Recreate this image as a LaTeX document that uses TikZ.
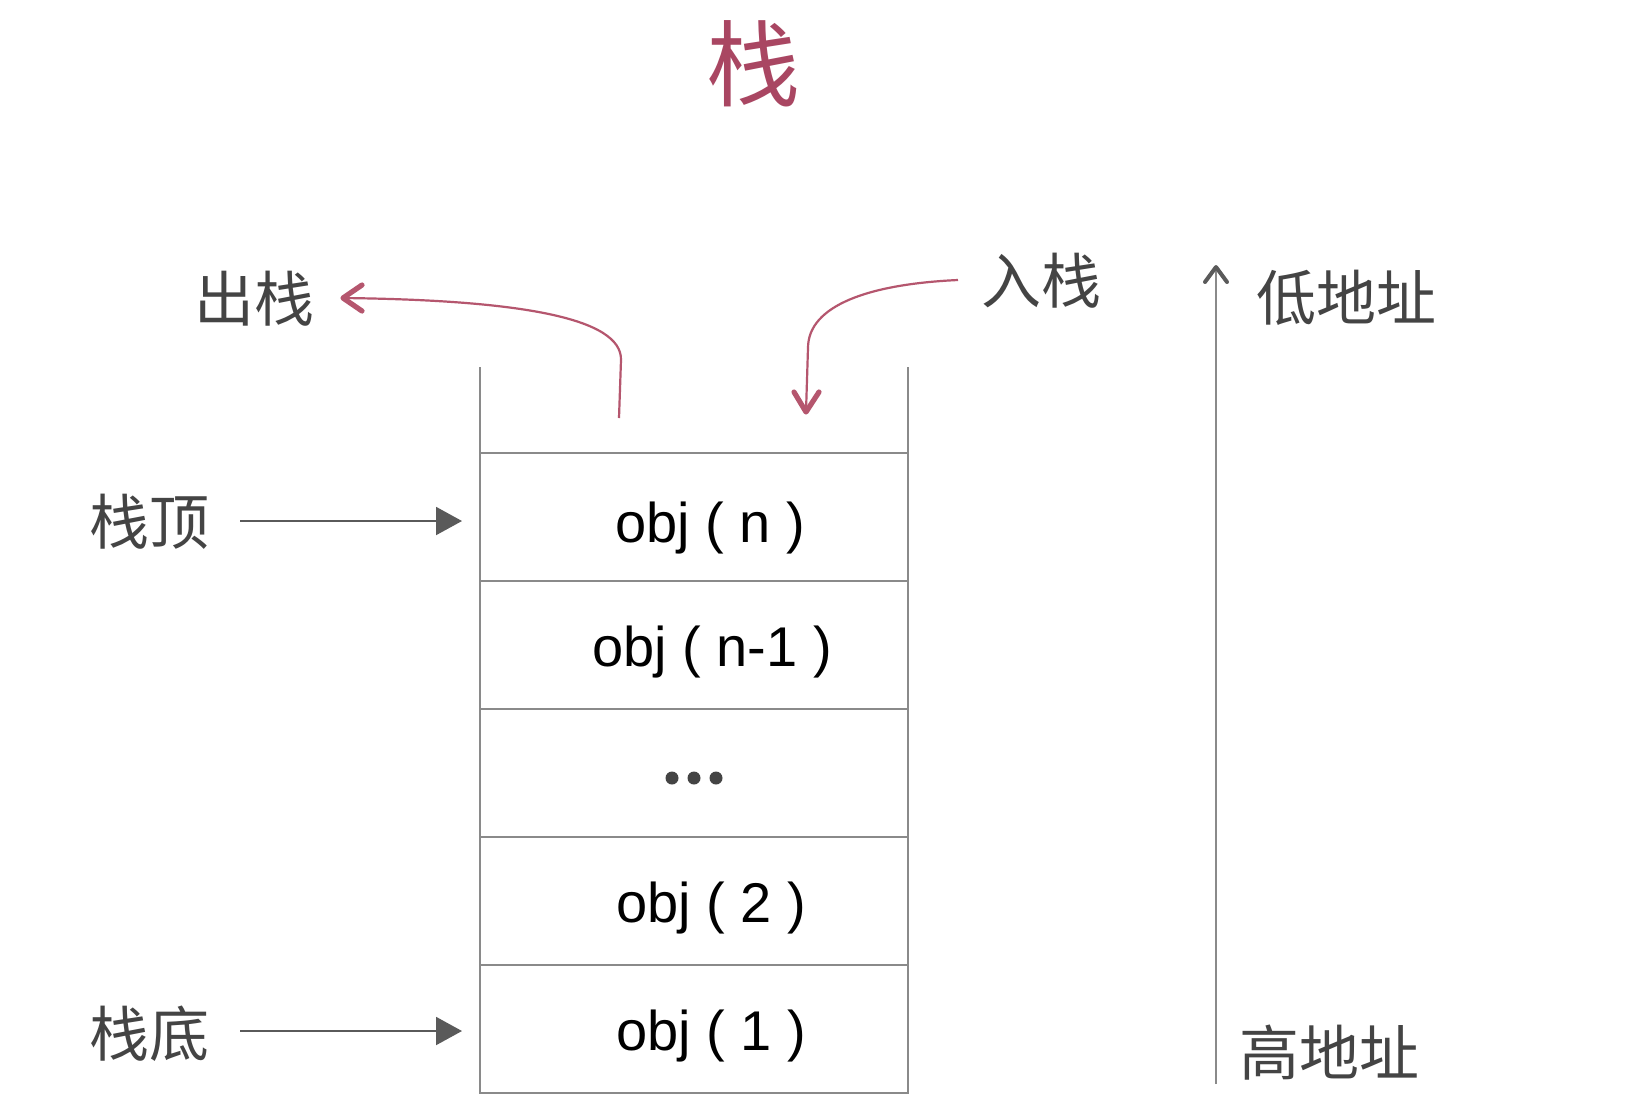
\documentclass[tikz,border=0pt]{standalone}
\usepackage{fontspec}
\setmainfont{Liberation Sans}
\newfontfamily\cjk{Noto Sans CJK SC}
\usetikzlibrary{arrows.meta}
\definecolor{txtgray}{HTML}{444444}
\definecolor{linegray}{HTML}{8A8A8A}
\definecolor{arrgray}{HTML}{5A5A5A}
\definecolor{rosered}{HTML}{A94662}
\definecolor{arrred}{HTML}{B5566E}
\begin{document}
\begin{tikzpicture}[x=0.5pt,y=-0.5pt,
  cell/.style={draw=linegray,line width=1pt,minimum width=214pt,minimum height=64pt,inner sep=0pt,outer sep=0pt},
  objtxt/.style={text=black,font=\fontsize{28}{30}\selectfont},
  cjklabel/.style={text=txtgray,font=\cjk\fontsize{30}{32}\selectfont,inner sep=0pt},
  ptr/.style={draw=arrgray,line width=1pt,-{Triangle[length=13pt,width=14pt]}},
  redline/.style={draw=arrred,line width=1.1pt},
  chev/.style={line width=2.6pt,line cap=round,line join=round},
  dot/.style={circle,fill=txtgray,inner sep=0pt,minimum size=6.5pt}]
\useasboundingbox[fill=white] (0,0) rectangle (1646,1116);
% title
\node[text=rosered,font=\cjk\fontsize{47}{50}\selectfont,inner sep=0pt] (title) at (753,64) {栈};
% stack cells
\node[cell] (c1) at (694,517) {};
\node[cell] (c2) at (694,645) {};
\node[cell] (c3) at (694,773) {};
\node[cell] (c4) at (694,901) {};
\node[cell] (c5) at (694,1029) {};
\coordinate (wl) at (480,367);
\coordinate (wr) at (908,367);
\draw[linegray,line width=1pt] (wl) -- (c1.north west);
\draw[linegray,line width=1pt] (wr) -- (c1.north east);
% texts
\node[objtxt] (t1) at (710,528) {obj ( n )};
\node[objtxt] (t2) at (712,652) {obj ( n-1 )};
\node[objtxt] (t4) at (711,908) {obj ( 2 )};
\node[objtxt] (t5) at (711,1036) {obj ( 1 )};
\node[dot] (d1) at (672,778) {};
\node[dot] (d2) at (694,778) {};
\node[dot] (d3) at (716,778) {};
% side labels
\node[cjklabel] (ltop) at (150,522) {栈顶};
\node[cjklabel] (lbot) at (150,1034) {栈底};
\draw[ptr] (240,521) coordinate (pa) -- (462,521) coordinate (pb);
\draw[ptr] (240,1031) coordinate (pc) -- (462,1031) coordinate (pd);
% pop / push
\node[cjklabel] (pop) at (254,299) {出栈};
\node[cjklabel] (push) at (1041,281) {入栈};
\coordinate (popstart) at (619,418);
\coordinate (popend) at (343,298);
\coordinate (pushstart) at (958,280);
\coordinate (pushend) at (806,412);
\draw[redline] (popstart) -- (621,360) .. controls (622,318) and (520,300) .. (popend);
\draw[arrred,chev] (362,285) -- (popend) -- (362,311);
\draw[redline] (pushstart) .. controls (870,284) and (808,305) .. (808,348) -- (pushend);
\draw[arrred,chev] (794,392) -- (pushend) -- (819,392);
% address axis
\coordinate (ahigh) at (1216,1084);
\coordinate (alow) at (1216,267);
\draw[draw=linegray,line width=1pt] (ahigh) -- (alow);
\draw[arrgray,chev,line width=2pt] (1205,282) -- (alow) -- (1227,282);
\node[cjklabel] (low) at (1346,298) {低地址};
\node[cjklabel] (high) at (1329,1053) {高地址};
\end{tikzpicture}
\end{document}
